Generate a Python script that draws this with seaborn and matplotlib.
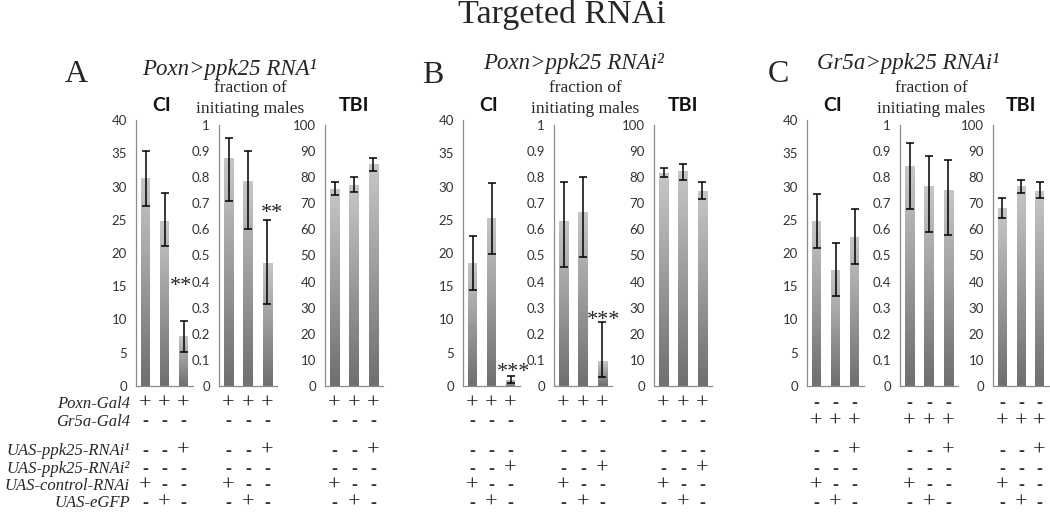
import numpy as np
import matplotlib
matplotlib.use('Agg')
import matplotlib.pyplot as plt
import seaborn as sns
from matplotlib.colors import LinearSegmentedColormap
from matplotlib.transforms import blended_transform_factory

sns.set_style('white')
plt.rcParams['font.family'] = ['Lato', 'DejaVu Sans']

# bar categories (not labelled on the axes, see genotype table below)
groups = ['control-RNAi', 'eGFP', 'ppk25-RNAi']

# Panel A: Poxn>ppk25 RNAi1
ci_a = [31.2, 24.8, 7.4]
ci_a_lo = [27.0, 21.0, 5.1]
ci_a_hi = [35.4, 29.0, 9.8]
frac_a = [0.87, 0.785, 0.47]
frac_a_lo = [0.71, 0.60, 0.315]
frac_a_hi = [0.95, 0.90, 0.635]
tbi_a = [75.3, 77.0, 84.8]
tbi_a_lo = [73.0, 74.5, 82.3]
tbi_a_hi = [78.0, 80.0, 87.2]

# Panel B: Poxn>ppk25 RNAi2
ci_b = [18.4, 25.2, 0.9]
ci_b_lo = [14.5, 19.8, 0.4]
ci_b_hi = [22.5, 30.5, 1.5]
frac_b = [0.63, 0.665, 0.095]
frac_b_lo = [0.455, 0.495, 0.035]
frac_b_hi = [0.78, 0.80, 0.245]
tbi_b = [81.5, 82.0, 74.5]
tbi_b_lo = [80.0, 79.0, 71.5]
tbi_b_hi = [83.5, 85.0, 78.0]

# Panel C: Gr5a>ppk25 RNAi1
ci_c = [24.7, 17.4, 22.4]
ci_c_lo = [20.7, 13.5, 18.3]
ci_c_hi = [28.8, 21.5, 26.6]
frac_c = [0.84, 0.765, 0.75]
frac_c_lo = [0.68, 0.59, 0.58]
frac_c_hi = [0.93, 0.88, 0.865]
tbi_c = [68.0, 76.5, 74.5]
tbi_c_lo = [64.5, 74.0, 72.0]
tbi_c_hi = [72.0, 79.0, 78.0]

# genotype table
row_labels = ['Poxn-Gal4', 'Gr5a-Gal4', 'UAS-ppk25-RNAi\u00b9', 'UAS-ppk25-RNAi\u00b2',
              'UAS-control-RNAi', 'UAS-eGFP']
geno_a = ['+++', '---', '--+', '---', '+--', '-+-']
geno_b = ['+++', '---', '---', '--+', '+--', '-+-']
geno_c = ['---', '+++', '--+', '---', '+--', '-+-']

W, H = 1050, 513
fig = plt.figure(figsize=(W / 100, H / 100), dpi=100)
fig.patch.set_facecolor('white')

SERIF = ['Liberation Serif', 'DejaVu Serif']
grad = LinearSegmentedColormap.from_list('bargrad', ['#6f6f6f', '#c6c6c6'])
gimg = np.linspace(0, 1, 64).reshape(-1, 1)
row_y = [404, 422, 451, 469, 486, 503]


def fx(x):
    return x / W


def fy(y):
    return 1 - y / H


def make_axes(left, right, top, bottom=386):
    return fig.add_axes([fx(left), fy(bottom), (right - left) / W, (bottom - top) / H])


def draw_bars(ax, means, lo, hi, ymax, step, fmt):
    sns.barplot(x=groups, y=means, ax=ax, width=0.47, color='#999999', saturation=1)
    for p in ax.patches:
        x0, w, h = p.get_x(), p.get_width(), p.get_height()
        ax.imshow(gimg, extent=[x0, x0 + w, 0, h], origin='lower', cmap=grad,
                  aspect='auto', zorder=1)
        p.set_visible(False)
    xs = np.arange(len(means))
    m = np.array(means)
    yerr = [m - np.array(lo), np.array(hi) - m]
    ax.errorbar(xs, m, yerr=yerr, fmt='none', ecolor='black', elinewidth=1.1,
                capsize=2.6, capthick=1.1, zorder=3)
    ax.set_xlim(-0.5, len(means) - 0.5)
    ax.set_ylim(0, ymax)
    ticks = np.arange(0, ymax + step / 2, step)
    ax.set_yticks(ticks)
    ax.set_yticklabels([fmt(t) for t in ticks])
    ax.set_xticks(np.arange(-0.5, len(means), 1.0))
    ax.set_xticklabels([])
    ax.set_xlabel('')
    ax.set_ylabel('')
    for s in ['top', 'right']:
        ax.spines[s].set_visible(False)
    for s in ['left', 'bottom']:
        ax.spines[s].set_color('#8c8c8c')
        ax.spines[s].set_linewidth(0.9)
    ax.tick_params(axis='both', direction='out', length=3.5, width=0.8, color='#8c8c8c',
                   labelsize=9.5, labelcolor='#333333', pad=3)
    ax.set_facecolor('none')


def draw_geno(ax, geno):
    tr = blended_transform_factory(ax.transData, fig.transFigure)
    for r, row in enumerate(geno):
        for j, sym in enumerate(row):
            if sym == '+':
                ax.text(j, fy(row_y[r]), sym, transform=tr, ha='center', va='center',
                        family=SERIF, fontsize=16, color='#222222', clip_on=False)
            else:
                ax.text(j, fy(row_y[r]), sym, transform=tr, ha='center', va='center',
                        family=SERIF, fontsize=13, fontweight='bold', color='#333333',
                        clip_on=False)


fmt_int = lambda t: f'{int(round(t))}'
fmt_frac = lambda t: '0' if t == 0 else ('1' if abs(t - 1) < 1e-9 else f'{t:.1f}')

panels = [
    dict(letter='A', lx=65, ly=82, sub='Poxn>ppk25 RNA\u00b9', sx=142, sy=75,
         ci=(ci_a, ci_a_lo, ci_a_hi), frac=(frac_a, frac_a_lo, frac_a_hi),
         tbi=(tbi_a, tbi_a_lo, tbi_a_hi), geno=geno_a,
         xs=[(136, 193), (219, 277), (325, 383)]),
    dict(letter='B', lx=422, ly=83, sub='Poxn>ppk25 RNAi\u00b2', sx=483, sy=69,
         ci=(ci_b, ci_b_lo, ci_b_hi), frac=(frac_b, frac_b_lo, frac_b_hi),
         tbi=(tbi_b, tbi_b_lo, tbi_b_hi), geno=geno_b,
         xs=[(463, 520), (554, 612), (654, 712)]),
    dict(letter='C', lx=768, ly=82, sub='Gr5a>ppk25 RNAi\u00b9', sx=817, sy=69,
         ci=(ci_c, ci_c_lo, ci_c_hi), frac=(frac_c, frac_c_lo, frac_c_hi),
         tbi=(tbi_c, tbi_c_lo, tbi_c_hi), geno=geno_c,
         xs=[(807, 864), (900, 958), (993, 1049)]),
]

axes_by_panel = []
for pnl in panels:
    (c0, c1), (f0, f1), (t0, t1) = pnl['xs']
    ax_ci = make_axes(c0, c1, 120)
    ax_fr = make_axes(f0, f1, 125)
    ax_tb = make_axes(t0, t1, 125)
    draw_bars(ax_ci, *pnl['ci'], 40, 5, fmt_int)
    draw_bars(ax_fr, *pnl['frac'], 1.0, 0.1, fmt_frac)
    draw_bars(ax_tb, *pnl['tbi'], 100, 10, fmt_int)
    for ax in (ax_ci, ax_fr, ax_tb):
        draw_geno(ax, pnl['geno'])
    axes_by_panel.append((ax_ci, ax_fr, ax_tb))

    fig.text(fx(pnl['lx']), fy(pnl['ly']), pnl['letter'], family=SERIF, fontsize=23,
             ha='left', va='baseline')
    fig.text(fx(pnl['sx']), fy(pnl['sy']), pnl['sub'], family=SERIF, style='italic',
             fontsize=16.5, ha='left', va='baseline')
    fig.text(fx((c0 + c1) / 2 - 3), fy(111), 'CI', fontweight='bold', fontsize=14,
             ha='center', va='baseline', color='#111111')
    fig.text(fx((t0 + t1) / 2), fy(111), 'TBI', fontweight='bold', fontsize=14,
             ha='center', va='baseline', color='#111111')
    fig.text(fx((f0 + f1) / 2 + 2), fy(92), 'fraction of', family=SERIF, fontsize=12.5,
             ha='center', va='baseline')
    fig.text(fx((f0 + f1) / 2 + 2), fy(113), 'initiating males', family=SERIF,
             fontsize=12.5, ha='center', va='baseline')

# significance marks
ax_ci_a, ax_fr_a, _ = axes_by_panel[0]
ax_ci_b, ax_fr_b, _ = axes_by_panel[1]
star_kw = dict(family=SERIF, fontsize=16, ha='center', va='center', clip_on=False)
ax_ci_a.text(1.85, 15.0, '**', **star_kw)
ax_fr_a.text(2.25, 0.66, '**', **star_kw)
ax_ci_b.text(2.15, 2.0, '***', **star_kw)
ax_fr_b.text(2.05, 0.25, '***', **star_kw)

# row labels of the genotype table
for lab, y in zip(row_labels, row_y):
    fig.text(fx(130), fy(y), lab, family=SERIF, style='italic', fontsize=12,
             ha='right', va='center')

fig.text(fx(562), fy(23), 'Targeted RNAi', family=SERIF, fontsize=24.5,
         ha='center', va='baseline')

fig.savefig('out.png', dpi=100, facecolor='white')
